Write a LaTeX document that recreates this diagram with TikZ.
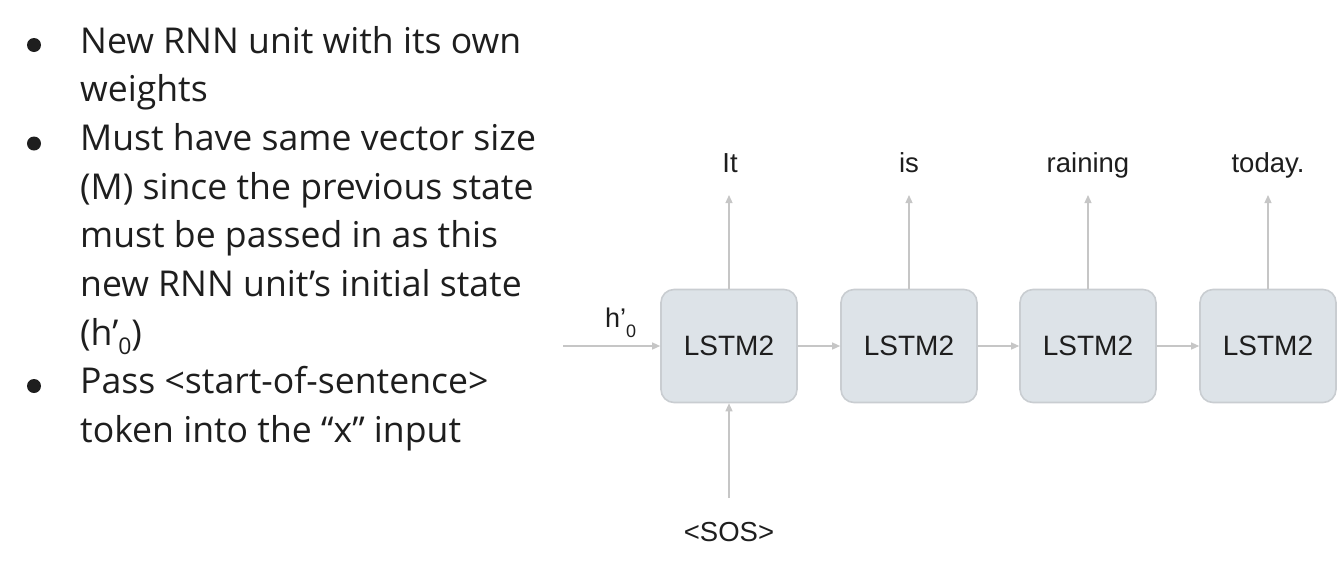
\documentclass[tikz,border=0pt]{standalone}
\usepackage{fontspec}
\setmainfont{Open Sans}
\newfontfamily\arialf{Liberation Sans}
\usetikzlibrary{arrows.meta}
\definecolor{boxfill}{HTML}{DDE3E8}
\definecolor{boxline}{HTML}{C9CDD1}
\definecolor{arrowgray}{HTML}{C6C6C6}
\definecolor{txt}{HTML}{1E1E1E}
\tikzset{
  lstm/.style={draw=boxline, line width=1.6pt, fill=boxfill, rounded corners=13pt,
    minimum width=136pt, minimum height=113pt, inner sep=0pt,
    font=\arialf\fontsize{28}{28}\selectfont, text=txt},
  lbl/.style={font=\arialf\fontsize{27.5}{28}\selectfont, text=txt, inner sep=0pt, anchor=base},
  conn/.style={draw=arrowgray, line width=1.3pt, -{Triangle[length=8pt,width=7pt]}},
  bodytext/.style={font=\fontsize{35.6}{40}\selectfont, text=txt, inner sep=0pt, anchor=base west},
  dot/.style={circle, fill=txt, minimum size=14pt, inner sep=0pt},
}
\begin{document}
\begin{tikzpicture}[x=1pt,y=-1pt]
\useasboundingbox (0,0) rectangle (1342,574);
% bullets and text
\node[dot] (b1) at (34,45) {};
\node[dot] (b2) at (34,143.5) {};
\node[dot] (b3) at (34,386) {};
\node[bodytext] (l1) at (80,53) {New RNN unit with its own};
\node[bodytext] (l2) at (80,101.5) {weights};
\node[bodytext] (l3) at (80,150.5) {Must have same vector size};
\node[bodytext] (l4) at (80,199) {(M) since the previous state};
\node[bodytext] (l5) at (80,247.5) {must be passed in as this};
\node[bodytext] (l6) at (80,296) {new RNN unit’s initial state};
\node[bodytext] (l7) at (80,345) {(h’\raisebox{-9pt}{\fontsize{23}{23}\selectfont 0})};
\node[bodytext] (l8) at (80,393.5) {Pass <start-of-sentence>};
\node[bodytext] (l9) at (80,442) {token into the “x” input};
% boxes
\node[lstm] (m1) at (729,346) {LSTM2};
\node[lstm] (m2) at (909,346) {LSTM2};
\node[lstm] (m3) at (1088,346) {LSTM2};
\node[lstm] (m4) at (1268,346) {LSTM2};
% output labels
\node[lbl] (o1) at (730,172) {It};
\node[lbl] (o2) at (909,172) {is};
\node[lbl] (o3) at (1088,172) {raining};
\node[lbl] (o4) at (1268,172) {today.};
\coordinate (t1) at (729,195);
\coordinate (t2) at (909,195);
\coordinate (t3) at (1088,195);
\coordinate (t4) at (1268,195);
\draw[conn] (m1.north) -- (t1);
\draw[conn] (m2.north) -- (t2);
\draw[conn] (m3.north) -- (t3);
\draw[conn] (m4.north) -- (t4);
% recurrent
\draw[conn] (m1.east) -- (m2.west);
\draw[conn] (m2.east) -- (m3.west);
\draw[conn] (m3.east) -- (m4.west);
% initial state
\coordinate (hin) at (563,346);
\draw[conn] (hin) -- (m1.west);
\node[font=\arialf\fontsize{27}{28}\selectfont, text=txt, inner sep=0pt, anchor=base west] (h0) at (605,327) {h’\raisebox{-10pt}{\fontsize{18}{18}\selectfont 0}};
% SOS input
\node[lbl] (sos) at (729,541) {<SOS>};
\coordinate (sin) at (729,498);
\draw[conn] (sin) -- (m1.south);
\end{tikzpicture}
\end{document}
